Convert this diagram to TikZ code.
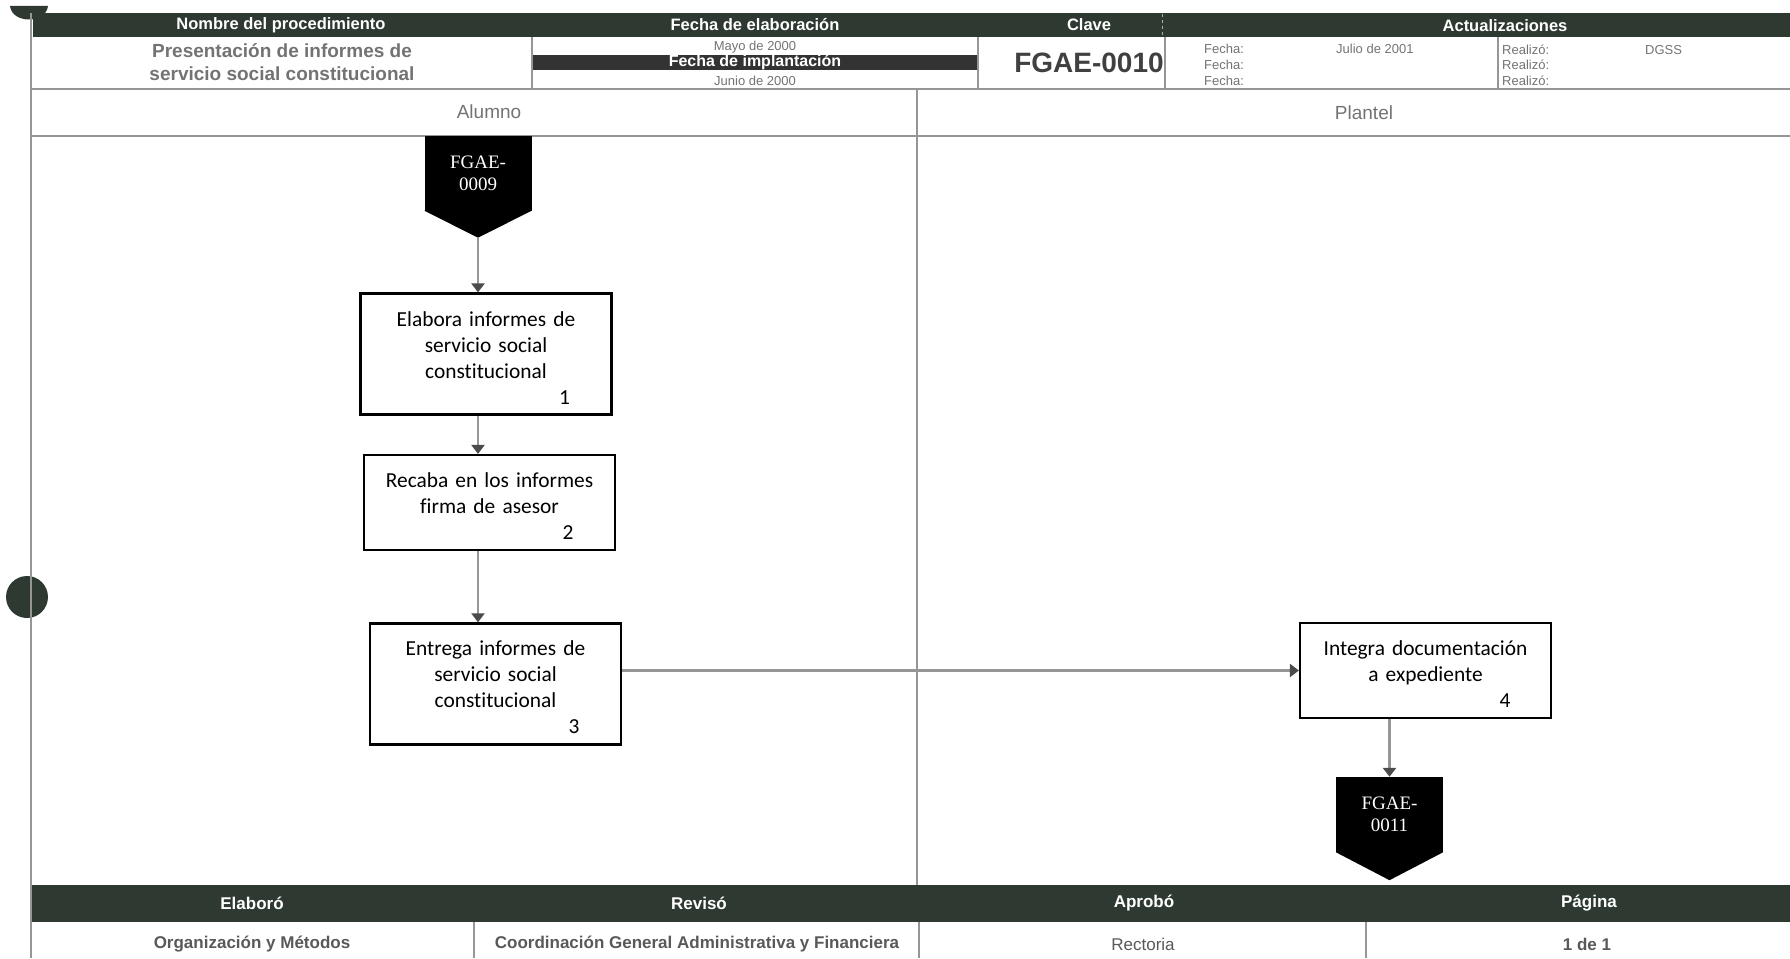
\documentclass[tikz,border=0pt]{standalone}
\usepackage{fontspec}
\setsansfont{Liberation Sans}
\newfontfamily\boxfont[Ligatures=NoCommon]{Carlito}
\newfontfamily\tagfont{Liberation Serif}
\usetikzlibrary{positioning,arrows.meta}
\definecolor{hdrgreen}{RGB}{46,58,49}
\definecolor{inkgray}{RGB}{115,115,115}
\definecolor{rulegray}{RGB}{150,150,150}
\definecolor{tipgray}{RGB}{75,75,75}
\newcommand{\fsz}[2]{\fontsize{#1}{#2}\selectfont}

\begin{document}
\begin{tikzpicture}[x=1pt,y=-1pt,
  bartext/.style={text=white,font=\sffamily\bfseries\fsz{16.5}{20}},
  info/.style={text=inkgray,inner sep=0pt,font=\sffamily\fsz{13}{16}},
  lane/.style={text=inkgray,font=\sffamily\fsz{19}{22}},
  foot/.style={text=black!65,font=\sffamily\bfseries\fsz{17}{20}},
  rule/.style={draw=rulegray,line width=1.6pt},
  actbox/.style={draw,line width=2.2pt,text width=230pt,inner xsep=10.5pt,inner ysep=10.5pt,align=center,
    execute at begin node={\rule{0pt}{22pt}},font=\boxfont\fsz{21.4}{26}},
  offpage/.style={fill=black,text=white,minimum width=107pt,minimum height=75pt,inner sep=0pt,align=center,font=\tagfont\fsz{19}{22}},
  flow/.style={draw=rulegray,line width=2.6pt,-{Triangle[length=9pt,width=13pt,color=tipgray]}}]
 \useasboundingbox (0,0) rectangle (1790,958);
 \fill[hdrgreen] (10,6) .. controls (12,24) and (46,24) .. (48,6) -- cycle;
 \fill[hdrgreen] (27,597) circle[radius=21pt];
 \fill[hdrgreen] (33,13) rectangle (1790,37);
 \fill[hdrgreen] (31,885) rectangle (1790,922);
 \fill[black!80] (532,55) rectangle (978,70);
 \draw[rule] (31,13) -- (31,958);
 \draw[rule] (31,89) -- (1790,89); \draw[rule] (31,136) -- (1790,136);
 \draw[rule] (532,37) -- (532,89); \draw[rule] (978,37) -- (978,89);
 \draw[rule] (1165,37) -- (1165,89); \draw[rule] (1498,37) -- (1498,89);
 \draw[rule] (917,89) -- (917,885);
 \draw[rule] (474,922) -- (474,958); \draw[rule] (919,922) -- (919,958); \draw[rule] (1366,922) -- (1366,958);
 \draw[white!60!hdrgreen,dashed,line width=1pt] (1162,14) -- (1162,36);
 \node[bartext] (nombre) at (281,25) {Nombre del procedimiento};
 \node[bartext] (elab) at (755,25) {Fecha de elaboración};
 \node[bartext] (clave) at (1089,25) {Clave};
 \node[bartext] (actual) at (1505,26) {Actualizaciones};
 \node[text=inkgray,font=\sffamily\bfseries\fsz{19}{23},align=center] (proc) at (282,62) {Presentación de informes de\\servicio social constitucional};
 \node[info] (mayo) at (755,47) {Mayo de 2000};
 \node[bartext,font=\sffamily\bfseries\fsz{16}{18}] (implant) at (755,62) {Fecha de implantación};
 \node[info] (junio) at (755,81) {Junio de 2000};
 \node[text=black!75,font=\sffamily\bfseries\fsz{28}{32}] (codigo) at (1089,63) {FGAE-0010};
 \node[info,anchor=west] (f1) at (1204,49) {Fecha:};
 \node[info,anchor=west] (f2) at (1204,65) {Fecha:};
 \node[info,anchor=west] (f3) at (1204,81) {Fecha:};
 \node[info,anchor=west] (julio) at (1336,49) {Julio de 2001};
 \node[info,anchor=west] (r1) at (1502,50) {Realizó:};
 \node[info,anchor=west] (r2) at (1502,65) {Realizó:};
 \node[info,anchor=west] (r3) at (1502,81) {Realizó:};
 \node[info,anchor=west] (dgss) at (1645,50) {DGSS};
 \node[lane] (alumno) at (489,112) {Alumno};
 \node[lane] (plantel) at (1364,113) {Plantel};
 \node[offpage] (c9) at (478,173) {FGAE-\\0009};
 \coordinate[below=27pt of c9.south] (c9tip);
 \fill (c9.south west) -- (c9.south east) -- (c9tip) -- cycle;
 \node[actbox] (b1) at (486,354) {Elabora informes de\\servicio social\\constitucional\\\hspace*{157pt}1};
 \node[actbox] (b2) at (489.5,502.5) {Recaba en los informes\\firma de asesor\\\hspace*{157pt}2};
 \node[actbox] (b3) at (495.5,684) {Entrega informes de\\servicio social\\constitucional\\\hspace*{157pt}3};
 \node[actbox] (b4) at (1425.5,670.5) {Integra documentación\\a expediente\\\hspace*{159pt}4};
 \node[offpage] (c11) at (1389.5,814.5) {FGAE-\\0011};
 \coordinate[below=28pt of c11.south] (c11tip);
 \fill (c11.south west) -- (c11.south east) -- (c11tip) -- cycle;
 \draw[flow] (c9tip) -- (c9tip |- b1.north);
 \draw[flow] (b1.south -| c9tip) -- (b2.north -| c9tip);
 \draw[flow] (b2.south -| c9tip) -- (b3.north -| c9tip);
 \draw[flow] (b3.east |- b4.west) -- (b4.west);
 \draw[flow] (b4.south -| c11.north) -- (c11.north);
 \node[bartext,font=\sffamily\bfseries\fsz{17}{20}] (elaboro) at (252,903) {Elaboró};
 \node[bartext,font=\sffamily\bfseries\fsz{17}{20}] (reviso) at (699,903) {Revisó};
 \node[bartext,font=\sffamily\bfseries\fsz{17}{20}] (aprobo) at (1144,903) {Aprobó};
 \node[bartext,font=\sffamily\bfseries\fsz{17}{20}] (pagina) at (1589,903) {Página};
 \node[foot] (orga) at (252,944) {Organización y Métodos};
 \node[foot] (coord) at (697,944) {Coordinación General Administrativa y Financiera};
 \node[foot,font=\sffamily\fsz{17}{20}] (rector) at (1143,944) {Rectoria};
 \node[foot] (pag) at (1587,944) {1 de 1};
\end{tikzpicture}
\end{document}
